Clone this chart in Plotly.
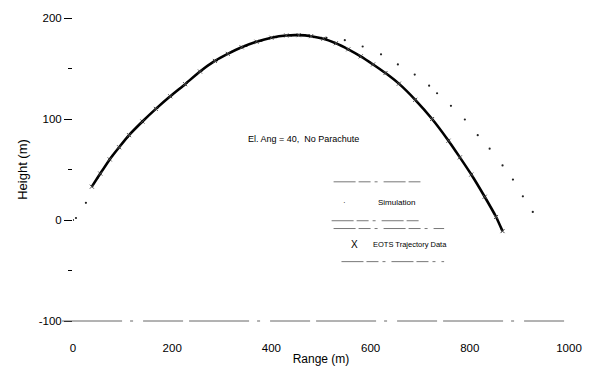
import plotly.graph_objects as go

# EOTS trajectory data (dense X markers, appear as a thick curve)
eots_range = [38, 55, 74, 93, 113, 140, 167, 196, 226, 256, 286, 312, 340, 370, 400,
              430, 455, 480, 505, 530, 555, 580, 605, 630, 657, 690, 724, 757, 780,
              803, 830, 853, 866]
eots_height = [33, 46, 60, 72, 84, 97.5, 110, 122.5, 134.5, 147, 157.5, 164.5, 171,
               176.5, 180.5, 182.7, 183, 182, 179.5, 175, 169, 162, 154, 145.5, 135,
               119, 100, 78.5, 62, 45, 23, 3, -11]

# Simulation (sparse dots)
sim_range = [0, 6, 26, 50, 80, 110, 140, 170, 200, 230, 260, 290, 320, 350, 380, 410,
             440, 475, 511, 548, 584, 621, 655, 689, 718, 734, 762, 790, 816, 840,
             866, 887, 907, 927]
sim_height = [0, 2, 17, 42, 64, 82, 97, 111, 124, 136, 148, 158, 166.5, 172.5, 177.5,
              181, 182.7, 182.5, 180.4, 178, 171.8, 164, 154, 144, 133, 125.5, 113,
              99.5, 84, 70.6, 54, 40, 23.4, 8]

x_ticks = [0, 200, 400, 600, 800, 1000]
y_ticks = [-100, 0, 100, 200]

FONT = "Liberation Sans, Arial, sans-serif"

fig = go.Figure()
fig.add_trace(go.Scatter(
    x=sim_range, y=sim_height, mode="markers", name="Simulation",
    marker=dict(symbol="circle", size=2.2, color="#222"),
    showlegend=False))
fig.add_trace(go.Scatter(
    x=eots_range, y=eots_height, mode="lines+markers", name="EOTS Trajectory Data",
    line=dict(color="black", width=2.6, shape="spline", smoothing=0.5),
    marker=dict(symbol="x-thin", size=4, line=dict(width=1, color="#444")),
    showlegend=False))

# legend drawn by hand: broken separator lines + texts
seg = dict(color="#777", width=1, dash="22px,3px,12px,4px,3px,6px")
for (x0, x1, yy) in [(337, 425, 183), (335, 424, 223), (337, 449, 231), (345, 449, 265)]:
    fig.add_shape(type="line", xref="paper", yref="paper",
                  x0=(x0 - 73) / 502.5, x1=(x1 - 73) / 502.5,
                  y0=(326 - yy) / 311.3, y1=(326 - yy) / 311.3, line=seg)
# broken x-axis line at the bottom
fig.add_shape(type="line", xref="paper", yref="paper",
              x0=-0.022, x1=1.0, y0=0, y1=0,
              line=dict(color="#666", width=1, dash="60px,8px,3px,10px,40px,6px"))

def ann(text, px, py, size, xanchor="left"):
    fig.add_annotation(text=text, xref="paper", yref="paper",
                       x=(px - 73) / 502.5, y=(326 - py) / 311.3,
                       xanchor=xanchor, yanchor="middle", showarrow=False,
                       font=dict(family=FONT, size=size, color="black"))

ann("El. Ang = 40,  No Parachute", 248, 139, 9)
ann("Simulation", 380, 204, 8)
ann("·", 348, 204, 8, xanchor="center")
ann("X", 358, 247, 10, xanchor="center")
ann("EOTS Trajectory Data", 375, 247, 7.5)

fig.update_layout(
    width=594, height=376,
    margin=dict(l=73, r=18.5, t=14.7, b=50),
    paper_bgcolor="white", plot_bgcolor="white",
    font=dict(family=FONT, color="black"),
    showlegend=False,
    xaxis=dict(range=[0, 1000], tickvals=x_ticks, ticktext=[str(v) for v in x_ticks],
               showgrid=False, zeroline=False, showline=False, ticks="",
               ticklabelstandoff=18, tickfont=dict(size=11.5, family=FONT),
               title=dict(text="Range (m)", font=dict(size=12, family=FONT), standoff=2)),
    yaxis=dict(range=[-100, 200], tickvals=y_ticks,
               ticktext=["-100", "0", "100", "200"],
               showgrid=False, zeroline=False, showline=False,
               ticks="outside", ticklen=8, tickcolor="black", tickwidth=1,
               minor=dict(tickvals=[-50, 50, 150], ticks="outside", ticklen=4,
                          tickcolor="black"),
               tickfont=dict(size=11.5, family=FONT),
               title=dict(text="Height (m)", font=dict(size=13, family=FONT), standoff=8)),
)

fig.write_html("out.html")
